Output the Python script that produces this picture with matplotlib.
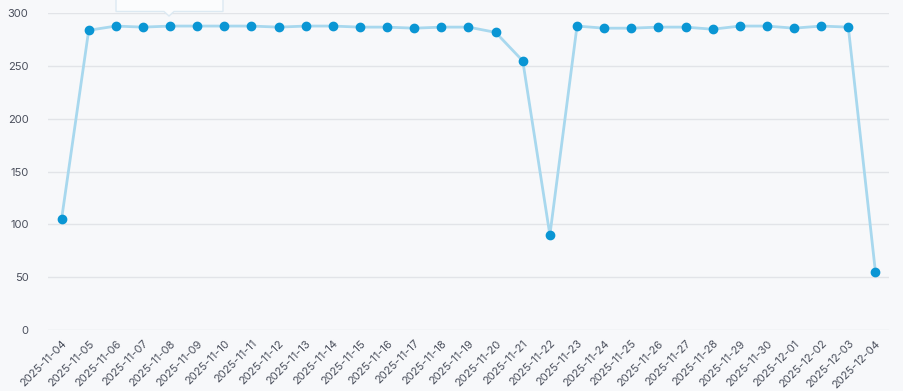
import matplotlib
matplotlib.use("Agg")
import matplotlib.pyplot as plt
from matplotlib.patches import Polygon

dates = ["2025-11-04", "2025-11-05", "2025-11-06", "2025-11-07", "2025-11-08", "2025-11-09",
         "2025-11-10", "2025-11-11", "2025-11-12", "2025-11-13", "2025-11-14", "2025-11-15",
         "2025-11-16", "2025-11-17", "2025-11-18", "2025-11-19", "2025-11-20", "2025-11-21",
         "2025-11-22", "2025-11-23", "2025-11-24", "2025-11-25", "2025-11-26", "2025-11-27",
         "2025-11-28", "2025-11-29", "2025-11-30", "2025-12-01", "2025-12-02", "2025-12-03",
         "2025-12-04"]
values = [105, 284, 288, 287, 288, 288, 288, 288, 287, 288, 288, 287, 287, 286, 287, 287,
          282, 255, 90, 288, 286, 286, 287, 287, 285, 288, 288, 286, 288, 287, 55]
yticks = [0, 50, 100, 150, 200, 250, 300]

W, H = 904, 391
bg = "#f7f8fa"
fig = plt.figure(figsize=(W / 100, H / 100), dpi=100, facecolor=bg)
left, right, top, bottom = 48, 889, 13.4, 330
ax = fig.add_axes([left / W, 1 - bottom / H, (right - left) / W, (bottom - top) / H])
ax.set_facecolor(bg)

x = list(range(len(dates)))
ax.plot(x, values, color="#a8d8ee", lw=2, zorder=2)
ax.plot(x, values, linestyle="none", marker="o", markersize=6,
        markerfacecolor="#0a96d4", markeredgecolor="#0a96d4", zorder=3)

ax.set_xlim(-0.5, len(dates) - 0.5)
ax.set_ylim(0, 300)
ax.set_yticks(yticks)
ax.set_yticklabels([str(v) for v in yticks])
ax.set_xticks(x)
ax.set_xticklabels(dates, rotation=45, ha="right", va="top", rotation_mode="anchor")

for s in ax.spines.values():
    s.set_visible(False)
ax.tick_params(axis="both", length=0, colors="#4a4f5c", labelsize=8)
ax.tick_params(axis="y", pad=14)
ax.tick_params(axis="x", pad=6)
for lbl in ax.get_xticklabels() + ax.get_yticklabels():
    lbl.set_family(["Inter", "DejaVu Sans"])
ax.grid(axis="y", color="#e2e4e8", lw=1)
ax.set_axisbelow(True)

# partially visible tooltip at top
def fx(px):
    return px / W
def fy(py):
    return 1 - py / H
tip = Polygon([(fx(116), fy(-5)), (fx(116), fy(11.5)), (fx(164), fy(11.5)), (fx(169), fy(16)),
               (fx(174), fy(11.5)), (fx(223), fy(11.5)), (fx(223), fy(-5))],
              closed=True, transform=fig.transFigure, facecolor="#fbfcfd",
              edgecolor="#dce9f2", lw=1, zorder=10)
fig.patches.append(tip)

fig.savefig("out.png", dpi=100, facecolor=bg)
